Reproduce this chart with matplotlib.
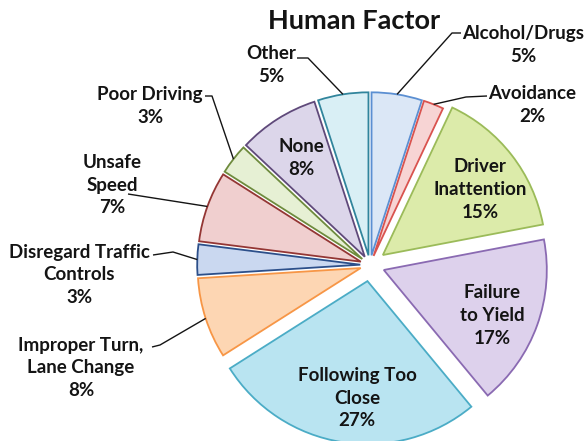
import math
import matplotlib
matplotlib.use("Agg")
import matplotlib.pyplot as plt

plt.rcParams['font.family'] = ['Lato', 'DejaVu Sans']

# ---------------- data ----------------
categories = ["Alcohol/Drugs", "Avoidance", "Driver\nInattention", "Failure\nto Yield",
              "Following Too\nClose", "Improper Turn,\nLane Change",
              "Disregard Traffic\nControls", "Unsafe\nSpeed", "Poor Driving",
              "None", "Other"]
percents = [5, 2, 15, 17, 27, 8, 3, 7, 3, 8, 5]
title = "Human Factor"

# ---------------- style / layout ----------------
fills = ["#dbe7f6", "#f7d4d4", "#dcebaa", "#ddd1ec", "#b9e4f1", "#fdd6b3",
         "#cad8f0", "#f0cfcf", "#e6f0d4", "#dcd6ea", "#d9eff5"]
edges = ["#5b8fd2", "#d9534f", "#9bbb59", "#8a6ab2", "#4bacc6", "#f79646",
         "#2c4f8a", "#943634", "#6e8b3d", "#5f497a", "#31859c"]
explode_frac = [0.06, 0.06, 0.10, 0.09, 0.10, 0.06, 0.06, 0.06, 0.06, 0.06, 0.06]
inside = [False, False, True, True, True, False, False, False, False, True, False]
inside_rot = {2: -4.0, 3: -3.0, 4: 4.0, 9: 0.0}   # small angular nudges (deg)

W, H = 586, 441
CX, CY, R = 370, 265, 163   # pie centre and radius in pixels


def px(x, y):
    """pixel (from top-left) -> data coords (pie radius = 1)"""
    return ((x - CX) / R, (CY - y) / R)


# outside labels: block centre and leader-line points (pixels)
outside_layout = {
    0: ((523, 45), [(461, 33), (452, 33)]),
    1: ((532, 105), [(487, 96), (466, 97)]),
    5: ((81, 368), [(152, 347), (160, 345)]),
    6: ((79, 275), [(153, 255), (173, 252)]),
    7: ((112, 185), [(128, 194)]),
    8: ((150, 106), [(205, 96), (212, 96)]),
    10: ((271, 65), [(297, 58), (308, 58)]),
}

fig = plt.figure(figsize=(W / 100, H / 100), dpi=100)
ax = fig.add_axes([0, 0, 1, 1])

wedges, _ = ax.pie(percents, explode=explode_frac, colors=fills, startangle=90,
                   counterclock=False, radius=1.0,
                   wedgeprops=dict(linewidth=1.3))
for w, ec in zip(wedges, edges):
    w.set_edgecolor(ec)

x0, y0 = px(0, H)
x1, y1 = px(W, 0)
ax.set_xlim(x0, x1)
ax.set_ylim(y0, y1)
ax.set_aspect('equal')
ax.axis('off')

txt_kw = dict(ha='center', va='center', fontsize=13.5, fontweight='bold',
              color='#141414', linespacing=1.42)

for i, (w, name, p) in enumerate(zip(wedges, categories, percents)):
    th = math.radians((w.theta1 + w.theta2) / 2)
    cx, cy = w.center
    label = f"{name}\n{p}%"
    if inside[i]:
        d = 0.72
        tl = th + math.radians(inside_rot.get(i, 0.0))
        ax.text(cx + d * math.cos(tl), cy + d * math.sin(tl), label, **txt_kw)
    else:
        (tx, ty), pts = outside_layout[i]
        ax.text(*px(tx, ty), label, **txt_kw)
        edge_pt = (cx + math.cos(th), cy + math.sin(th))
        xs = [px(*q)[0] for q in pts] + [edge_pt[0]]
        ys = [px(*q)[1] for q in pts] + [edge_pt[1]]
        ax.plot(xs, ys, color='#141414', lw=1.0, solid_capstyle='butt')

ax.text(*px(354, 21), title, ha='center', va='center', fontsize=19.5,
        fontweight='bold', color='#141414')

fig.savefig("out.png", dpi=100, facecolor='white')
